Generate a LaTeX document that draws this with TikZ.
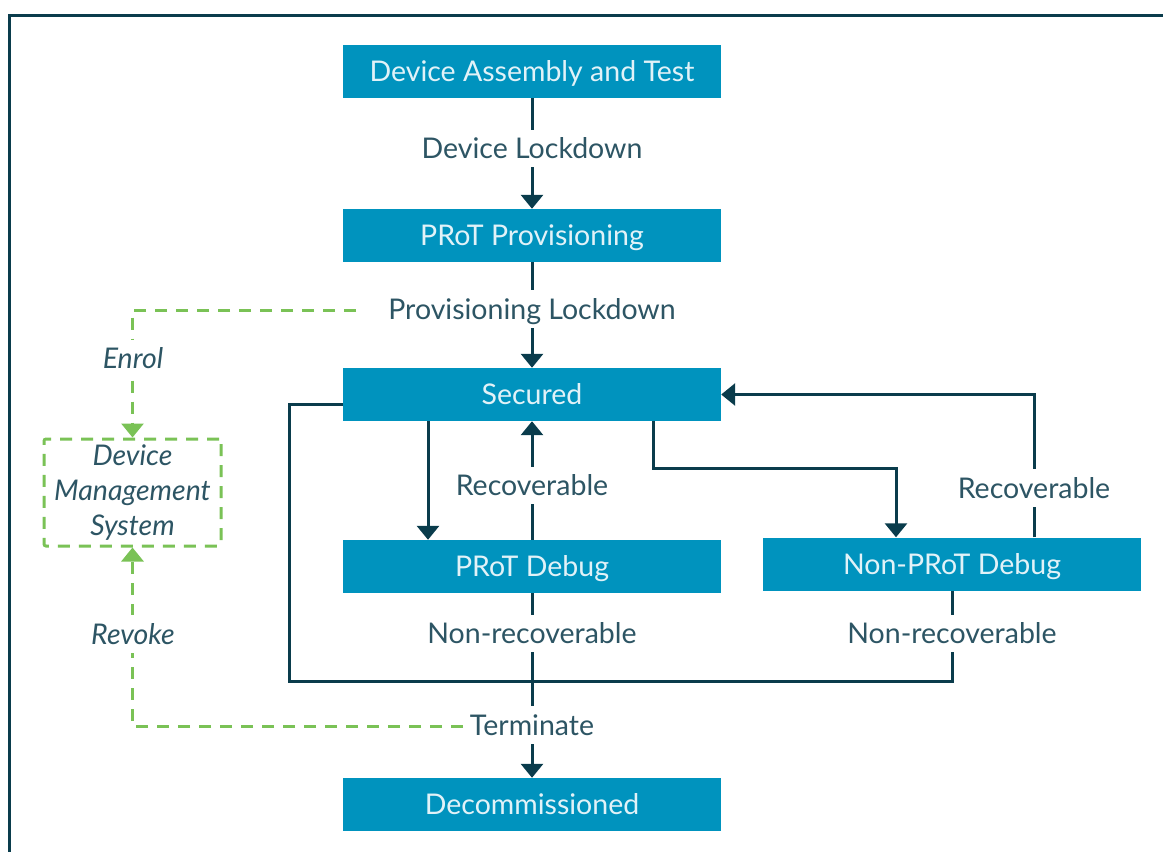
\documentclass[tikz,border=0pt]{standalone}
\usepackage{fontspec}
\setmainfont{Lato}
\usetikzlibrary{arrows.meta}
\definecolor{boxblue}{RGB}{0,147,190}
\definecolor{dark}{RGB}{10,60,76}
\definecolor{lbl}{RGB}{45,85,100}
\definecolor{grn}{RGB}{122,194,86}
\definecolor{boxtxt}{RGB}{225,242,248}
\begin{document}
\begin{tikzpicture}[x=1pt,y=-1pt,
 state/.style={fill=boxblue, text=boxtxt, minimum width=378pt, minimum height=53pt, inner sep=0pt, text height=20.5pt, text depth=0pt, font=\fontsize{28.5}{34}\selectfont},
 lab/.style={fill=white, text=lbl, inner sep=2pt, text height=27pt, text depth=6.5pt, font=\fontsize{28.5}{34}\selectfont},
 ilab/.style={lab, font=\fontsize{28.5}{34}\selectfont\itshape},
 conn/.style={draw=dark, line width=3pt, -{Triangle[width=22pt,length=14pt]}},
 plain/.style={draw=dark, line width=3pt},
 gconn/.style={draw=grn, line width=3pt, dash pattern=on 12pt off 9pt, -{Triangle[width=22pt,length=14pt]}},
 dmsbox/.style={draw=grn, line width=3pt, dash pattern=on 12pt off 9pt, rounded corners=2pt, minimum width=177pt, minimum height=107pt, align=center, text=lbl, inner sep=0pt, font=\fontsize{28.5}{35}\selectfont\itshape},
]
\useasboundingbox (0,0) rectangle (1163,852);
\draw[dark, line width=3pt] (9,852) -- (9,15) -- (1163,15);

\node[state] (dat) at (532,71.5) {Device Assembly and Test};
\node[state] (prov) at (532,235.5) {PRoT Provisioning};
\node[state] (sec) at (532,394.5) {Secured};
\node[state] (pdbg) at (532,566.5) {PRoT Debug};
\node[state] (npdbg) at (952,564) {Non-PRoT Debug};
\node[state] (dec) at (532,804.5) {Decommissioned};
\node[dmsbox] (dms) at (132.5,492.5) {Device\\Management\\System};

\coordinate (j1) at (532,681);
\coordinate (enrs) at (356,310);
\coordinate (revs) at (463,726);

\draw[conn] (dat) -- (prov);
\draw[conn] (prov) -- (sec);
\draw[conn] ([xshift=-104pt]sec.south) -- ([xshift=-104pt]pdbg.north);
\draw[conn] (pdbg) -- (sec);
\draw[conn] ([xshift=121pt]sec.south) -- ++(0,47) -| ([xshift=-56pt]npdbg.north);
\draw[conn] ([xshift=82pt]npdbg.north) |- (sec.east);
\draw[conn] (pdbg) -- (dec);
\draw[plain] ([yshift=-9.5pt]sec.west) -| (j1 -| 289,0) -- (j1);
\draw[plain] (npdbg.south) |- (j1);
\draw[gconn] (enrs) -| (dms.north);
\draw[gconn] (revs) -| (dms.south);

\node[lab] (l1) at (532,148.5) {Device Lockdown};
\node[lab] (l2) at (532,309) {Provisioning Lockdown};
\node[lab] (l3) at (532,485.5) {Recoverable};
\node[lab] (l4) at (1034,488) {Recoverable};
\node[lab] (l5) at (532,633.5) {Non-recoverable};
\node[lab] (l6) at (952,633.5) {Non-recoverable};
\node[lab] (l7) at (532,725) {Terminate};
\node[ilab] (l8) at (133,358.5) {Enrol};
\node[ilab] (l9) at (133,634) {Revoke};
\end{tikzpicture}
\end{document}
